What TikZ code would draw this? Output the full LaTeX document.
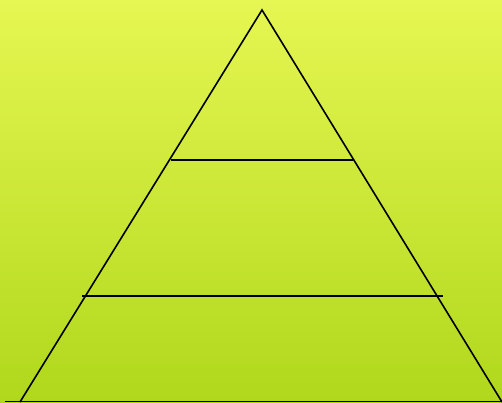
\documentclass[tikz,border=0pt]{standalone}
\begin{document}
\begin{tikzpicture}[x=1pt,y=-1pt,
  edge/.style={draw=black,line width=1.6pt},
  tier/.style={draw=black,line width=1.6pt}]
\definecolor{bgtop}{RGB}{230,246,82}
\definecolor{bgbot}{RGB}{176,216,28}
\definecolor{baseline}{RGB}{120,160,20}
\useasboundingbox (0,0) rectangle (502,402);
\shade[top color=bgtop,bottom color=bgbot] (0,0) rectangle (502,402);
\draw[baseline,line width=1pt] (5,401.5) -- (502,401.5);
\coordinate (apex) at (262,10);
\coordinate (bl) at (20,402);
\coordinate (br) at (502,402);
\coordinate (t1l) at (171,160);
\coordinate (t1r) at (353,160);
\coordinate (t2l) at (82,296);
\coordinate (t2r) at (443,296);
\draw[edge] (bl) -- (apex) -- (br);
\draw[tier] (t1l) -- (t1r);
\draw[tier] (t2l) -- (t2r);
\end{tikzpicture}
\end{document}
